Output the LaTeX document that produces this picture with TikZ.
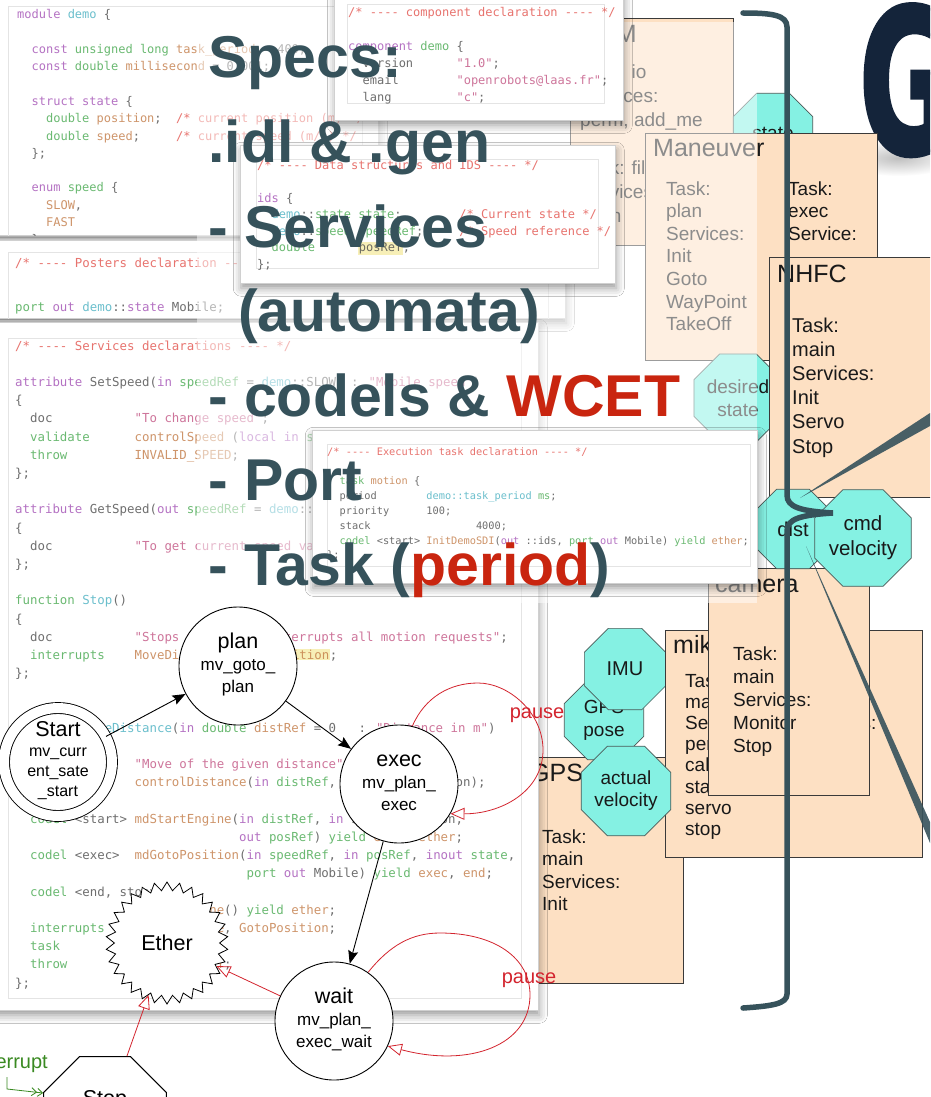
\documentclass[tikz,border=0pt]{standalone}
\usepackage{fontspec}
\setmainfont{Liberation Sans}
\newfontfamily\codefont{DejaVu Sans Mono}
\newfontfamily\gfont{DejaVu Sans}[FakeBold=2.5]
\usetikzlibrary{shapes.geometric,arrows.meta,shadows.blur,fadings}

\definecolor{slate}{HTML}{36525B}
\definecolor{accent}{HTML}{C9250F}
\definecolor{peach}{HTML}{FDE0C3}
\definecolor{boxedge}{HTML}{3A3A3A}
\definecolor{octfill}{HTML}{85F1E3}
\definecolor{octedge}{HTML}{4A5A58}
\definecolor{gnavy}{HTML}{14243A}
\definecolor{loopred}{HTML}{D3242E}
\definecolor{intgreen}{HTML}{3A8A22}
\definecolor{ckw}{HTML}{A24FB4}
\definecolor{cty}{HTML}{45A84E}
\definecolor{cnm}{HTML}{C27A45}
\definecolor{cstr}{HTML}{C25382}
\definecolor{ccom}{HTML}{E2504A}
\definecolor{cid}{HTML}{46AFC0}
\definecolor{cdef}{HTML}{4A4A4A}
\definecolor{chl}{HTML}{F6EBA6}
\definecolor{winedge}{HTML}{D0D0D0}
\definecolor{frameedge}{HTML}{E4E4E4}

% code listing helpers
\newcommand\sk[1]{\hspace*{#1\fontcharwd\font`x}}
\newcommand\Ck[1]{\textcolor{ckw}{#1}}
\newcommand\Ct[1]{\textcolor{cty}{#1}}
\newcommand\Cn[1]{\textcolor{cnm}{#1}}
\newcommand\Cs[1]{\textcolor{cstr}{#1}}
\newcommand\Cc[1]{\textcolor{ccom}{#1}}
\newcommand\Ci[1]{\textcolor{cid}{#1}}
\newcommand\Ch[1]{{\fboxsep=0.6pt\colorbox{chl}{#1}}}
\newcommand\linesblock[1]{\begin{tabular}[t]{@{}l@{}}#1\end{tabular}}
\newcommand\fsmtext[2]{\begin{tabular}{@{}c@{}}{\fontsize{21.5}{22}\selectfont #1}\\#2\end{tabular}}

\tikzfading[name=softedge, inner color=transparent!0, outer color=transparent!100]

\tikzset{
  win/.style={fill=white, draw=winedge, line width=0.6pt, anchor=north west, inner sep=0pt,
    blur shadow={shadow xshift=1pt, shadow yshift=-5pt, shadow blur radius=8pt, shadow opacity=40}},
  innerframe/.style={draw=frameedge, line width=0.6pt},
  code/.style={anchor=base west, inner sep=0pt, text=cdef, text opacity=0.8},
  bigline/.style={anchor=base west, inner sep=0pt, text=slate, font=\bfseries\fontsize{59}{59}\selectfont},
  cbox/.style={draw=boxedge, fill=peach, line width=0.7pt, anchor=north west, inner sep=0pt},
  ctitle/.style={anchor=base west, inner sep=0pt, text=black!90, font=\fontsize{25}{25}\selectfont},
  ctext/.style={anchor=base west, inner sep=0pt, text=black!90, font=\fontsize{19}{#1}\selectfont},
  ctext/.default=22.5,
  portoct/.style={regular polygon, regular polygon sides=8, draw=octedge, fill=octfill, line width=0.7pt,
    inner sep=0pt, minimum size=#1, align=center, text=black!90, font=\fontsize{19}{22}\selectfont},
  portoct/.default=86,
  fsmstate/.style={circle, draw=black, line width=0.9pt, fill=white, minimum size=118pt, inner sep=0pt,
    font=\fontsize{17}{22}\selectfont},
  etherstar/.style={star, star points=30, star point ratio=1.16, draw=black, line width=0.8pt, fill=white,
    minimum size=122pt, inner sep=0pt, font=\fontsize{21.5}{22}\selectfont},
  stopoct/.style={regular polygon, regular polygon sides=8, draw=black, line width=0.9pt, fill=white,
    minimum size=133pt, inner sep=0pt, font=\fontsize{21.5}{22}\selectfont},
  blk/.style={draw=black, line width=0.9pt, -{Stealth[length=13pt,width=10pt,inset=2pt]}},
  redtri/.style={draw=loopred, line width=0.8pt, -{Triangle[open,length=14pt,width=12pt]}},
  pauselbl/.style={text=loopred, font=\fontsize{20}{20}\selectfont, inner sep=0pt},
  brk/.style={draw=slate, line width=5.5pt, line cap=round},
}

\begin{document}
\begin{tikzpicture}[x=1pt,y=-1pt]
\useasboundingbox (0,0) rectangle (930,1097);
\clip (0,0) rectangle (930,1097);
\fill[white] (0,0) rectangle (930,1097);

% ---------- title letter ----------
\fill[black, opacity=0.25, path fading=softedge] (898,158) ellipse (60 and 18);
\node[anchor=base west, inner sep=0pt, text=gnavy, font=\gfont\bfseries\fontsize{200}{200}\selectfont]
  (bigG) at (859,153) {\scalebox{0.58}[1]{G}};

% ---------- component architecture ----------
\node[cbox, minimum width=163pt, minimum height=227pt] (pom) at (570,18) {};
\node[ctitle] (pomT) at (585,43) {PoM};
\node[ctext=24] (pomB) at (580,79) {\linesblock{Task: io\\Services:\\perm, add\_me\\ \\Task: filter\\Services:\\main}};

\node[portoct=86] (stateP) at (773,133) {state};

\node[cbox, minimum width=232pt, minimum height=227pt] (man) at (645,133) {};
\node[ctitle] (manT) at (653,157) {Maneuver};
\node[ctext=22.6] (manA) at (666,195) {\linesblock{Task:\\plan\\Services:\\Init\\Goto\\WayPoint\\TakeOff}};
\node[ctext=22.6] (manB) at (788,195) {\linesblock{Task:\\exec\\Service:}};

\node[portoct=76, font=\fontsize{19}{23}\selectfont] (desP) at (738,398) {desired\\state};

\node[cbox, minimum width=172pt, minimum height=240pt] (nhfc) at (769,257) {};
\node[ctitle] (nhfcT) at (777,282) {NHFC};
\node[ctext=24.2, font=\fontsize{20}{24.2}\selectfont] (nhfcB) at (792,332) {\linesblock{Task:\\main\\Services:\\Init\\Servo\\Stop}};

\node[cbox, minimum width=163pt, minimum height=226pt] (gps) at (520,757) {};
\node[ctitle] (gpsT) at (530,781) {GPS};
\node[ctext=22.5] (gpsB) at (542,843) {\linesblock{Task:\\main\\Services:\\Init}};
\node[portoct=86, font=\fontsize{19}{23}\selectfont] (gpsP) at (604,720) {GPS\\pose};
\node[portoct=88, font=\fontsize{20}{22}\selectfont] (imuP) at (625,669) {IMU};

\node[cbox, minimum width=257pt, minimum height=227pt] (mik) at (665,630) {};
\node[ctitle] (mikT) at (673,653) {mikrokopter};
\node[ctext=21.2] (mikA) at (685,687) {\linesblock{Task:\\main\\Services:\\perm\\calib\\start\\servo\\stop}};
\node[ctext=21.2] (mikB) at (798,687) {\linesblock{Task:\\comm\\Services:}};
\node[portoct=86] (actP) at (626,791) {actual\\velocity};

\node[cbox, minimum width=161pt, minimum height=227pt] (cam) at (708,568) {};
\node[ctitle] (camT) at (715,592) {camera};
\node[ctext=23] (camB) at (733,660) {\linesblock{Task:\\main\\Services:\\Monitor\\Stop}};

\node[portoct=86, font=\fontsize{20}{22}\selectfont] (distP) at (793,529) {dist};
\node[portoct=87, font=\fontsize{20.5}{25}\selectfont] (cmdP) at (863,538) {cmd\\velocity};

% ---------- brace and its callout ----------
\draw[brk] (743,13) .. controls (772,13) and (787,15) .. (787,27) -- (787,495)
  .. controls (787,507) and (800,511) .. (833,513)
  .. controls (800,515) and (787,519) .. (787,531) -- (787,994)
  .. controls (787,1004) and (772,1006) .. (743,1008);
\fill[slate, opacity=0.9] (800,498) -- (930,413) -- (930,426) -- cycle;
\fill[slate, opacity=0.9] (806,546) -- (930,822) -- (930,843) -- cycle;

% ---------- code listings (lower layer) ----------
\node[win, minimum width=388pt, minimum height=245pt] (winA) at (-10,-10) {};
\begin{scope}
  \clip (-10,-10) rectangle (378,235);
  \draw[innerframe] (8,6) rectangle (362,250);
  \node[code, font=\codefont\fontsize{12}{17.3}\selectfont] (codeA) at (17,19) {\linesblock{%
    \Ck{module} \Ci{demo} \{\\
    \\
    \sk{2}\Ck{const} \Ct{unsigned long} \Cn{task\_period} = 400;\\
    \sk{2}\Ck{const} \Ct{double} \Cn{millisecond} = 0.001;\\
    \\
    \sk{2}\Ck{struct state} \{\\
    \sk{4}\Ct{double} \Cn{position};\sk{2}\Cc{/* current position (m) */}\\
    \sk{4}\Ct{double} \Cn{speed};\sk{5}\Cc{/* current speed (m/s) */}\\
    \sk{2}\};\\
    \\
    \sk{2}\Ck{enum} \Ct{speed} \{\\
    \sk{4}\Cn{SLOW},\\
    \sk{4}\Cn{FAST}\\
    \sk{2}\};}};
\end{scope}

\node[win, minimum width=575pt, minimum height=78pt] (winD) at (-10,240) {};
\begin{scope}
  \clip (-10,240) rectangle (565,318);
  \draw[innerframe] (8,252) rectangle (548,330);
  \node[code, font=\codefont\fontsize{12.4}{22}\selectfont] (codeD) at (15,267) {\linesblock{%
    \Cc{/* ---- Posters declaration ---- */}\\
    \\
    \Ct{port} \Ck{out} \Ci{demo}::\Ck{state} Mobile;}};
\end{scope}

\node[win, minimum width=548pt, minimum height=688pt] (winE) at (-10,322) {};
\draw[innerframe] (8,338) rectangle (521,998);
\node[code, font=\codefont\fontsize{12.4}{18.2}\selectfont] (codeE) at (15,350) {\linesblock{%
  \Cc{/* ---- Services declarations ---- */}\\
  \\
  \Ck{attribute} SetSpeed(\Ck{in} \Ct{speedRef} = \Ci{demo}::SLOW\sk{2}: \Cs{"Mobile speed"})\\
  \{\\
  \sk{2}doc\sk{11}\Cs{"To change speed"};\\
  \sk{2}\Ct{validate}\sk{6}\Cn{controlSpeed} (\Ck{local in} \Ct{speedRef});\\
  \sk{2}\Ct{throw}\sk{9}\Cn{INVALID\_SPEED};\\
  \};\\
  \\
  \Ck{attribute} GetSpeed(\Ck{out} \Ct{speedRef} = \Ci{demo}::SLOW\sk{2}: \Cs{"Mobile speed"})\\
  \{\\
  \sk{2}doc\sk{11}\Cs{"To get current speed value"};\\
  \};\\
  \\
  \Ct{function} \Ci{Stop}()\\
  \{\\
  \sk{2}doc\sk{11}\Cs{"Stops motion and interrupts all motion requests"};\\
  \sk{2}\Ct{interrupts}\sk{4}\Cn{MoveDistance}, \Ch{\Cn{GotoPosition}};\\
  \};\\
  \\
  \\
  \Ck{activity} \Ci{MoveDistance}(\Ck{in} \Ct{double} \Cn{distRef} = 0\sk{3}: \Cs{"Distance in m"})\\
  \{\\
  \sk{2}doc\sk{11}\Cs{"Move of the given distance"};\\
  \sk{2}\Ct{validate}\sk{6}\Cn{controlDistance}(\Ck{in} \Ct{distRef}, \Ck{in} state.position);\\
  \\
  \sk{2}\Ct{codel} <start> \Cn{mdStartEngine}(\Ck{in} \Ct{distRef}, \Ck{in} state.position,\\
  \sk{30}\Ck{out} \Ct{posRef}) \Ct{yield} \Cn{exec}, \Cn{ether};\\
  \sk{2}\Ct{codel} <exec>\sk{2}\Cn{mdGotoPosition}(\Ck{in} \Ct{speedRef}, \Ck{in} \Ct{posRef}, \Ck{inout} \Ct{state},\\
  \sk{31}\Ct{port} \Ck{out} Mobile) \Ct{yield} \Cn{exec}, \Cn{end};\\
  \sk{2}\Ct{codel} <end, stop>\\
  \sk{16}\Cn{mdStopEngine}() \Ct{yield} \Cn{ether};\\
  \sk{2}\Ct{interrupts}\sk{4}\Cn{MoveDistance}, \Cn{GotoPosition};\\
  \sk{2}\Ct{task}\sk{10}\Cn{motion};\\
  \sk{2}\Ct{throw}\sk{9}\Cn{TOO\_FAR\_AWAY};\\
  \};}};

% ---------- translucent panel behind the headline text ----------
\fill[white, opacity=0.5] (197,22) rectangle (757,603);

% ---------- code listings (upper layer) ----------
\node[win, minimum width=289pt, minimum height=130pt] (winB) at (334,-10) {};
\draw[innerframe] (347,4) rectangle (604,103);
\node[code, font=\codefont\fontsize{12}{17}\selectfont] (codeB) at (348,17) {\linesblock{%
  \Cc{/* ---- component declaration ---- */}\\
  \\
  \Ck{component} \Ct{demo} \{\\
  \sk{2}version\sk{6}\Cs{"1.0"};\\
  \sk{2}email\sk{8}\Cs{"openrobots@laas.fr"};\\
  \sk{2}lang\sk{9}\Cs{"c"};}};

\node[win, minimum width=375pt, minimum height=138pt] (winC) at (240,145) {};
\draw[innerframe] (256,159) rectangle (598,268);
\node[code, font=\codefont\fontsize{12}{16.5}\selectfont] (codeC) at (257,169) {\linesblock{%
  \Cc{/* ---- Data structures and IDS ---- */}\\
  \\
  \Ck{ids} \{\\
  \sk{2}\Ci{demo}::\Ct{state} \Ct{state};\sk{8}\Cc{/* Current state */}\\
  \sk{2}\Ci{demo}::\Ct{speed} \Ct{speedRef};\sk{5}\Cc{/* Speed reference */}\\
  \sk{2}\Ct{double}\sk{6}\Ch{posRef};\\
  \};}};

\node[win, minimum width=445pt, minimum height=153pt] (winF) at (312,430) {};
\draw[innerframe] (327,444) rectangle (750,566);
\node[code, font=\codefont\fontsize{10.3}{14.85}\selectfont] (codeF) at (327,455) {\linesblock{%
  \Cc{/* ---- Execution task declaration ---- */}\\
  \\
  \sk{2}\Ct{task} \Cn{motion} \{\\
  \sk{2}period\sk{8}\Ci{demo::task\_period} \Ct{ms};\\
  \sk{2}priority\sk{6}100;\\
  \sk{2}stack\sk{17}4000;\\
  \sk{2}\Ct{codel} <start> \Cn{InitDemoSDI}(\Ck{out} ::ids, \Ct{port} \Ck{out} Mobile) \Ct{yield} \Cn{ether};\\
  \};}};

% ---------- headline ----------
\node[bigline] (l1) at (208,78) {Specs:};
\node[bigline] (l2) at (208,162.5) {.idl \& .gen};
\node[bigline] (l3) at (208,247) {- Services};
\node[bigline] (l4) at (238,331.5) {(automata)};
\node[bigline] (l5) at (208,416) {- codels \& \textcolor{accent}{WCET}};
\node[bigline] (l6) at (208,500.5) {- Port};
\node[bigline] (l7) at (208,585) {- Task (\textcolor{accent}{period})};

% ---------- service automaton ----------
\node[fsmstate, double=white, double distance=10pt, minimum size=108pt, font=\fontsize{16}{20}\selectfont]
  (start) at (58,762) {\fsmtext{Start}{mv\_curr\\ent\_sate\\\_start}};
\node[fsmstate] (plan) at (238,666) {\fsmtext{plan}{mv\_goto\_\\plan}};
\node[fsmstate] (exec) at (399,784) {\fsmtext{exec}{mv\_plan\_\\exec}};
\node[fsmstate] (wait) at (334,1021) {\fsmtext{wait}{mv\_plan\_\\exec\_wait}};
\node[etherstar] (ether) at (167,943) {Ether};
\node[stopoct] (stop) at (105,1118) {\raisebox{13pt}[0pt][0pt]{Stop}};

\draw[blk] (start) -- (plan);
\draw[blk] (plan) -- (exec);
\draw[blk] (exec) -- (wait);
\draw[redtri] (wait) -- (ether);
\draw[redtri] (stop) -- (ether);

\draw[redtri] (exec.77) .. controls (425,697) and (450,683) .. (478,683)
  .. controls (508,683) and (543,712) .. (543,750)
  .. controls (543,792) and (500,814) .. (exec.-30);
\node[pauselbl] (pause1) at (537,715) {pause};

\draw[redtri] (wait.55) .. controls (390,945) and (412,933) .. (440,933)
  .. controls (495,933) and (530,958) .. (530,995)
  .. controls (530,1045) and (470,1068) .. (wait.-25);
\node[pauselbl] (pause2) at (529,980) {pause};

\node[anchor=base east, inner sep=0pt, text=intgreen, font=\fontsize{20}{20}\selectfont] (intr) at (48,1068) {interrupt};
\coordinate (intsrc) at (7,1077);
\draw[intgreen, line width=0.8pt, -{Straight Barb[length=5pt,width=8pt] Straight Barb[length=5pt,width=8pt]}]
  (intsrc) -- (7,1089) -- (stop.158);
\end{tikzpicture}
\end{document}
